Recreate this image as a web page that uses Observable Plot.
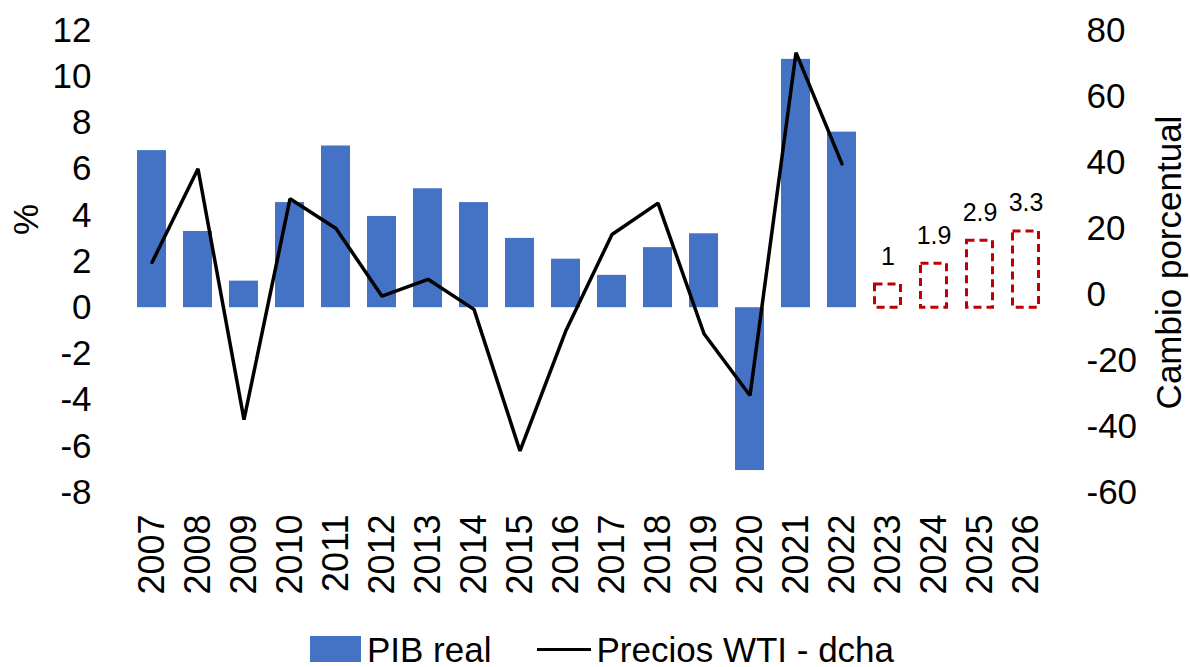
<!DOCTYPE html>
<html>
<head>
<meta charset="utf-8">
<script src="https://cdn.jsdelivr.net/npm/d3@7"></script>
<script src="https://cdn.jsdelivr.net/npm/@observablehq/plot@0.6"></script>
<style>
  html, body { margin: 0; padding: 0; background: #fff; }
  body { width: 1190px; height: 667px; overflow: hidden; font-family: "Liberation Sans", Arial, sans-serif; }
  #chart svg { display: block; }
  #legend { display: flex; justify-content: center; align-items: center; height: 47px; font-size: 35px; line-height: 35px; color: #000; padding-left: 14px; padding-top: 11px; box-sizing: border-box; white-space: nowrap; }
  .sw-bar { width: 51px; height: 26px; background: #4472C4; margin-right: 6px; }
  .sw-line { width: 54px; height: 3px; background: #000; margin-right: 5px; margin-left: 46px; }
</style>
</head>
<body>
<div id="chart"></div>
<div id="legend">
  <span class="sw-bar"></span><span>PIB real</span>
  <span class="sw-line"></span><span>Precios WTI - dcha</span>
</div>
<script>
// ---- data ----
const years = ["2007","2008","2009","2010","2011","2012","2013","2014","2015","2016",
               "2017","2018","2019","2020","2021","2022","2023","2024","2025","2026"];
const pibYears = ["2007","2008","2009","2010","2011","2012","2013","2014","2015","2016",
                  "2017","2018","2019","2020","2021","2022"];
const pibValues = [6.8, 3.3, 1.15, 4.55, 7.0, 3.95, 5.15, 4.55, 3.0, 2.1,
                   1.4, 2.6, 3.2, -7.05, 10.75, 7.6];
const wtiValues = [9.7, 38.1, -37.9, 29.0, 20.0, -0.5, 4.6, -4.5, -47.4, -10.9,
                   18.2, 27.7, -11.9, -30.6, 73.3, 39.6];
const forecastYears = ["2023","2024","2025","2026"];
const forecastValues = [1, 1.9, 2.9, 3.3];
const leftTicks = [-8, -6, -4, -2, 0, 2, 4, 6, 8, 10, 12];
const rightTicks = [-60, -40, -20, 0, 20, 40, 60, 80];
const leftDomain = [-8, 12];
const rightDomain = [-60, 80];

// map right-axis values onto the left-axis scale
const toLeft = r => leftDomain[0] + (r - rightDomain[0]) * (leftDomain[1] - leftDomain[0]) / (rightDomain[1] - rightDomain[0]);
const toRight = l => rightDomain[0] + (l - leftDomain[0]) * (rightDomain[1] - rightDomain[0]) / (leftDomain[1] - leftDomain[0]);

const pib = pibYears.map((y, i) => ({year: y, value: pibValues[i]}));
const wti = pibYears.map((y, i) => ({year: y, value: toLeft(wtiValues[i])}));
const fc = forecastYears.map((y, i) => ({year: y, value: forecastValues[i]}));

const chart = Plot.plot({
  width: 1190,
  height: 620,
  marginTop: 30,
  marginBottom: 128,
  marginLeft: 124,
  marginRight: 138,
  style: {fontFamily: "'Liberation Sans', Arial, sans-serif", fontSize: "35px", color: "#000", background: "#fff"},
  x: {domain: years, paddingInner: 0.38, paddingOuter: 0.19},
  y: {domain: leftDomain},
  marks: [
    Plot.barY(pib, {x: "year", y: "value", fill: "#4472C4"}),
    Plot.barY(fc, {x: "year", y: "value", fill: "none", stroke: "#C00000", strokeWidth: 3, strokeDasharray: "8,5", insetLeft: 1.5, insetRight: 1.5}),
    Plot.text(fc, {x: "year", y: "value", text: d => String(d.value), dy: -28, fontSize: 25, fill: "#000"}),
    Plot.line(wti, {x: "year", y: "value", stroke: "#000", strokeWidth: 3.5, strokeLinejoin: "miter"}),
    Plot.axisX({tickRotate: -90, tickSize: 0, tickPadding: 22, fontSize: 36, label: null}),
    Plot.axisY({anchor: "left", ticks: leftTicks, tickSize: 0, tickPadding: 33, fontSize: 35, label: null, tickFormat: d => String(d)}),
    Plot.axisY({anchor: "right", ticks: rightTicks.map(toLeft), tickSize: 0, tickPadding: 34, fontSize: 35, label: null, tickFormat: d => String(Math.round(toRight(d)))}),
    Plot.text(["%"], {frameAnchor: "left", textAnchor: "middle", rotate: -90, dx: -98, dy: -42, fontSize: 35, fill: "#000"}),
    Plot.text(["Cambio porcentual"], {frameAnchor: "right", textAnchor: "middle", rotate: -90, dx: 117, dy: 1, fontSize: 35, fill: "#000"})
  ]
});
document.getElementById("chart").appendChild(chart);
</script>
</body>
</html>
